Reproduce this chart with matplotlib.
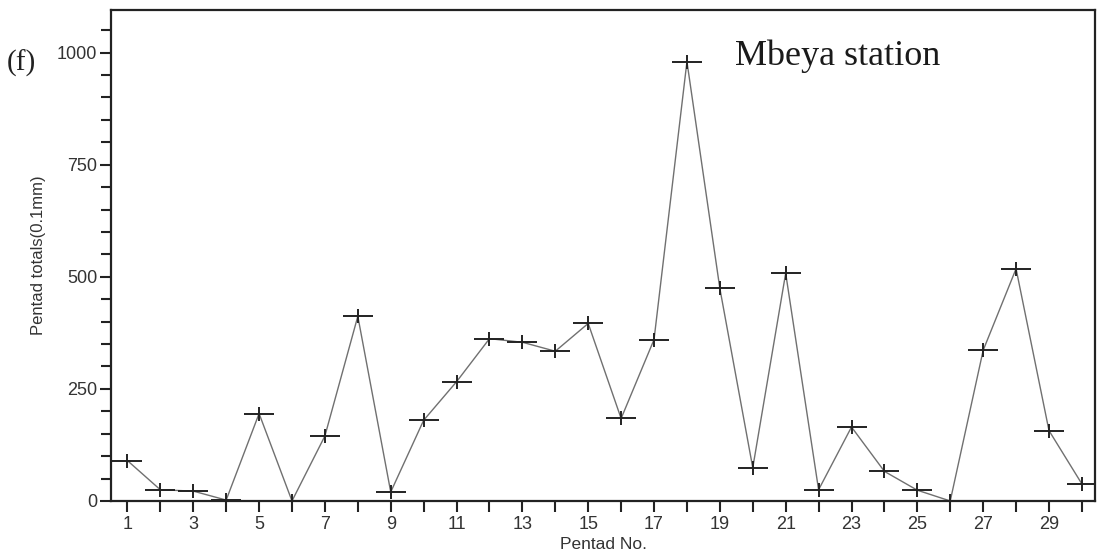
import numpy as np
import matplotlib.pyplot as plt
from matplotlib.ticker import MultipleLocator
from matplotlib.path import Path

# Data
pentad = list(range(1, 31))
totals = [90, 25, 22, 2, 195, 0, 145, 412, 20, 180,
          266, 362, 354, 334, 396, 184, 360, 980, 474, 74,
          508, 25, 165, 66, 24, 0, 336, 518, 157, 38]
xticklabels = [str(i) if i % 2 == 1 else '' for i in pentad]
yticks = [0, 250, 500, 750, 1000]

plt.rcParams['font.family'] = ['Liberation Sans', 'DejaVu Sans']

# wide, flat plus sign like the original plotter marker
cross = Path([(-1, 0), (1, 0), (0, -0.45), (0, 0.45)],
             [Path.MOVETO, Path.LINETO, Path.MOVETO, Path.LINETO])

fig = plt.figure(figsize=(11.01, 5.58), dpi=100)
ax = fig.add_axes([0.1008, 0.1022, 0.8938, 0.8798])

ax.plot(pentad, totals, color='#707070', lw=1.0, zorder=2)
ax.plot(pentad, totals, ls='none', marker=cross, ms=22, mew=1.4,
        color='#222222', zorder=3)

ax.set_xlim(0.5, 30.4)
ax.set_ylim(0, 1095)
ax.set_xticks(pentad)
ax.set_xticklabels(xticklabels)
ax.set_yticks(yticks)
ax.yaxis.set_minor_locator(MultipleLocator(50))

for s in ax.spines.values():
    s.set_linewidth(1.6)
    s.set_color('#222222')

ax.tick_params(axis='both', which='both', direction='out', width=1.5,
               color='#222222', labelsize=13, labelcolor='#333333')
ax.tick_params(axis='both', which='major', length=8)
ax.tick_params(axis='y', which='minor', length=7)
ax.tick_params(axis='x', pad=3)
ax.tick_params(axis='y', pad=2)

ax.set_xlabel('Pentad No.', fontsize=12.5, color='#333333', labelpad=3)
ax.set_ylabel('Pentad totals(0.1mm)', fontsize=12, color='#333333', labelpad=8)

fig.text(0.006, 0.887, '(f)', family='Liberation Serif', fontsize=21,
         color='#222222', va='center', ha='left')
ax.text(0.634, 0.905, 'Mbeya station', transform=ax.transAxes,
        family='Liberation Serif', fontsize=26, color='#1a1a1a',
        va='center', ha='left')

fig.savefig('out.png', dpi=100)
